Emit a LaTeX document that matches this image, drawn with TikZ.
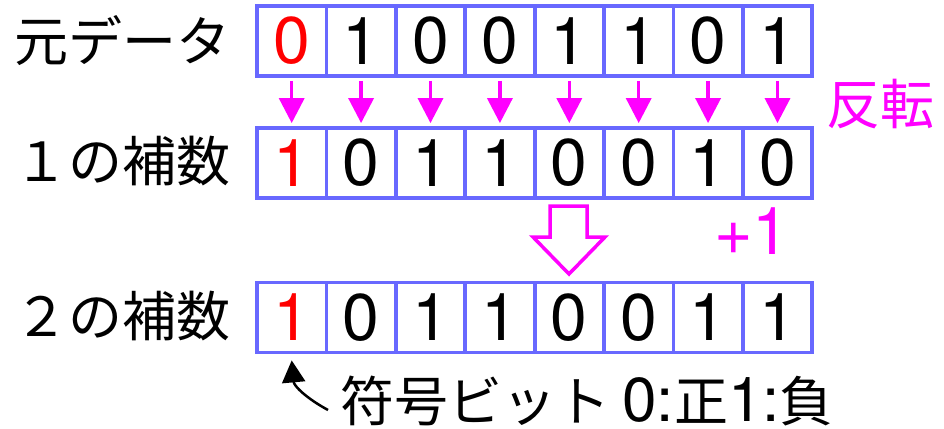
\documentclass[tikz,border=0pt]{standalone}
\usepackage{fontspec}
\setmainfont{TeX Gyre Heros}
\newfontfamily\arialish{TeX Gyre Heros}
\newfontfamily\jp{Noto Sans CJK JP}
\usetikzlibrary{arrows.meta}

\definecolor{cellblue}{RGB}{104,104,255}
\definecolor{pinkm}{RGB}{255,0,255}
\definecolor{signred}{RGB}{255,0,0}

\newcommand{\digitsize}{\arialish\fontsize{66}{66}\selectfont}
\newcommand{\jpsize}{\jp\fontsize{54}{54}\selectfont}
\newcommand{\notedigits}[1]{{\arialish\fontsize{62}{62}\selectfont #1}}

\tikzset{
  cell/.style={draw=cellblue, line width=3.8pt, minimum width=69.4pt,
    minimum height=70pt, inner sep=0pt, font=\digitsize},
  signcell/.style={cell, text=signred},
  rowlabel/.style={inner sep=0pt, font=\jpsize},
  flip/.style={draw=pinkm, line width=3.5pt, shorten <=3pt, shorten >=3pt,
    -{Triangle[width=25pt,length=25pt]}},
  hollow/.style={draw=pinkm, line width=3.5pt, line join=miter},
  signarrow/.style={draw=black, line width=2.5pt,
    -{Triangle[width=23pt,length=22pt]}},
}

\begin{document}
\begin{tikzpicture}[x=1pt, y=-1pt]
  \useasboundingbox (0,0) rectangle (944,428);

  % row labels
  \node[rowlabel] (l1) at (122,41) {元データ};
  \node[rowlabel] (l2) at (122,161) {１の補数};
  \node[rowlabel] (l3) at (122,316) {２の補数};

  % bit cells: original, one's complement, two's complement
  % (the first cell of each row is the sign bit, in red)
  \node[signcell] (a1) at (291.7,41) {0};
  \foreach \d [count=\i from 2] in {1,0,0,1,1,0,1}
    \node[cell] (a\i) at ({257+69.4*(\i-0.5)},41) {\d};
  \node[signcell] (b1) at (291.7,163) {1};
  \foreach \d [count=\i from 2] in {0,1,1,0,0,1,0}
    \node[cell] (b\i) at ({257+69.4*(\i-0.5)},163) {\d};
  \node[signcell] (c1) at (291.7,317.5) {1};
  \foreach \d [count=\i from 2] in {0,1,1,0,0,1,1}
    \node[cell] (c\i) at ({257+69.4*(\i-0.5)},317.5) {\d};

  % inversion arrows
  \foreach \i in {1,...,8}
    \draw[flip] (a\i.south) -- (b\i.north);
  \node[inner sep=0pt, text=pinkm, font=\jpsize] (inv) at (880,104) {反転};

  % hollow arrow: add one
  \draw[hollow] (550,206) -- (587,206) -- (587,237) -- (605,237)
    -- (569,274) -- (533,237) -- (550,237) -- cycle;
  \node[inner sep=0pt, text=pinkm, font=\digitsize] (plus) at (752,231) {+1};

  % sign bit note
  \node[inner sep=0pt, anchor=west, font=\jpsize] (sgn) at (340,401)
    {符号ビット \notedigits{0:}正\notedigits{1:}負};
  \coordinate (tail) at (328,410);
  \draw[signarrow] (tail) .. controls (306,398) and (294,386) .. ([yshift=-6pt]c1.south);
\end{tikzpicture}
\end{document}
